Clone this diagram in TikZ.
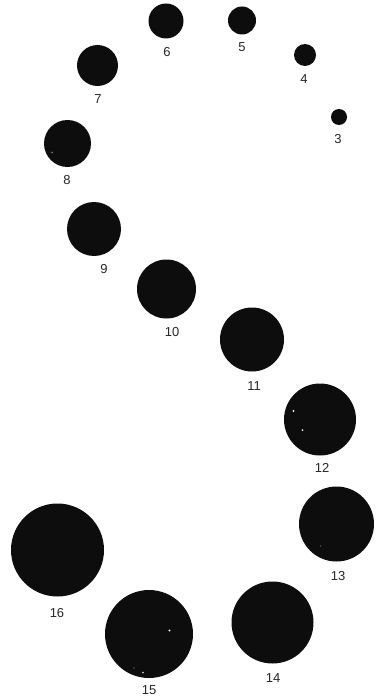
\documentclass[tikz,border=0pt]{standalone}
\usepackage{fontspec}
\setmainfont{Liberation Sans}
\begin{document}
\begin{tikzpicture}[x=1pt,y=-1pt,
  disc/.style={circle,fill=black!95,inner sep=0pt,minimum size=#1},
  lbl/.style={font=\fontsize{13}{13}\selectfont,text=black!85,inner sep=0pt},
  speck/.style={fill=white!80!gray}]
\useasboundingbox (0,0) rectangle (380,698);
\node[disc=35pt] (c6) at (166,21) {};
\node[disc=28pt] (c5) at (242,20.5) {};
\node[disc=22pt] (c4) at (305,55) {};
\node[disc=16pt] (c3) at (339,117) {};
\node[disc=41pt] (c7) at (97.5,65.5) {};
\node[disc=47pt] (c8) at (67.5,143.5) {};
\node[disc=54pt] (c9) at (94,229) {};
\node[disc=59pt] (c10) at (166.5,289) {};
\node[disc=64pt] (c11) at (252,339.5) {};
\node[disc=72pt] (c12) at (320,419.5) {};
\node[disc=75pt] (c13) at (336.5,524) {};
\node[disc=82pt] (c14) at (272.5,622.5) {};
\node[disc=88pt] (c15) at (149,634) {};
\node[disc=93pt] (c16) at (57.5,550) {};
\node[lbl] (l6) at (167,52) {6};
\node[lbl] (l5) at (242,47) {5};
\node[lbl] (l4) at (304,79) {4};
\node[lbl] (l3) at (338,139) {3};
\node[lbl] (l7) at (98,99) {7};
\node[lbl] (l8) at (67,180) {8};
\node[lbl] (l9) at (104,269) {9};
\node[lbl] (l10) at (172,332) {10};
\node[lbl] (l11) at (254,386) {11};
\node[lbl] (l12) at (322,468) {12};
\node[lbl] (l13) at (338,576) {13};
\node[lbl] (l14) at (273,678) {14};
\node[lbl] (l15) at (149,690) {15};
\node[lbl] (l16) at (57,613) {16};
% faint specks
\fill[speck] (293.5,411) circle (1.2);
\fill[speck] (302.5,430) circle (1);
\fill[black!55] (52,152.5) circle (1);
\fill[speck] (169.5,630.5) circle (1.2);
\fill[speck] (143,672.5) circle (0.9);
\fill[black!70] (134,668) circle (0.8);
\fill[black!70] (320.5,546) circle (0.8);
\end{tikzpicture}
\end{document}
